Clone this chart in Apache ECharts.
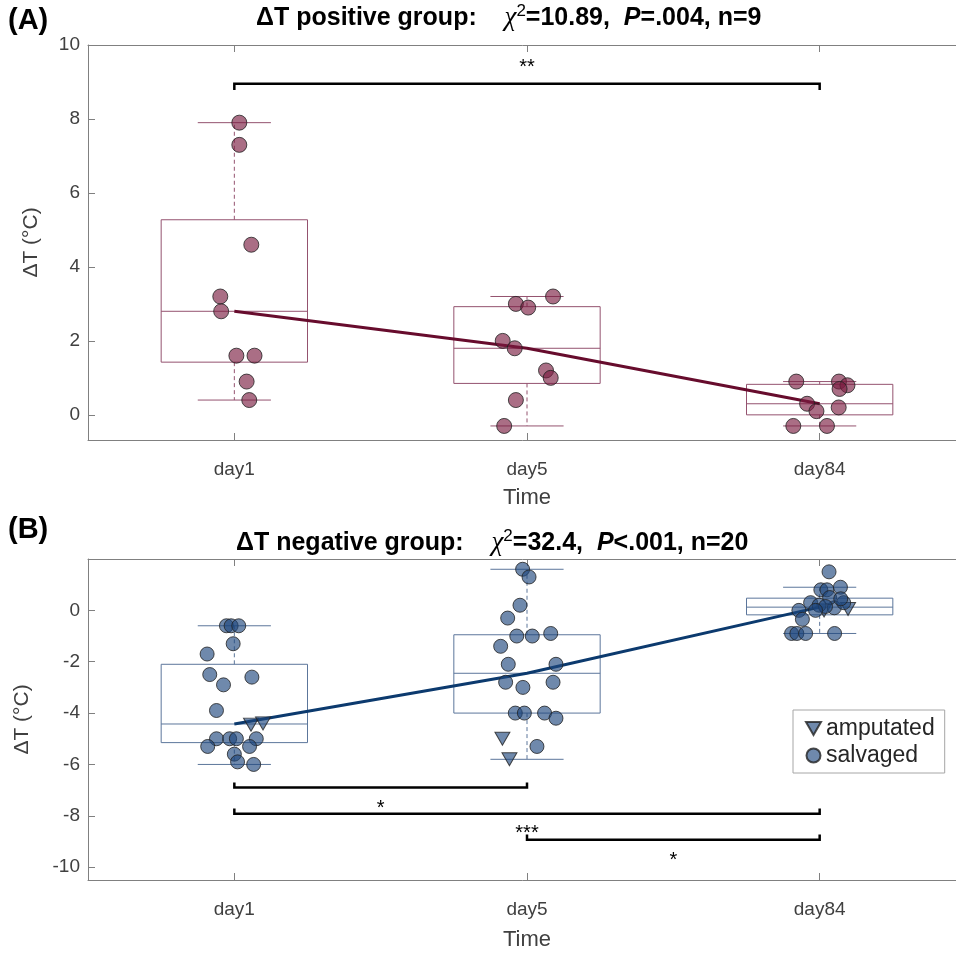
<!DOCTYPE html>
<html><head><meta charset="utf-8">
<script src="https://cdn.jsdelivr.net/npm/echarts@6/dist/echarts.min.js"></script>
<style>html,body{margin:0;padding:0;background:#fff;overflow:hidden}#c{width:956px;height:954px}</style>
</head><body><div id="c"></div>
<script>
// ---------- data ----------
const days = ['day1', 'day5', 'day84'];
const yTicksA = [0, 2, 4, 6, 8, 10];
const yTicksB = [-10, -8, -6, -4, -2, 0];

// Panel A: ΔT positive group (n=9)
const posDay1 = [7.9, 7.3, 4.6, 3.2, 2.8, 1.6, 1.6, 0.9, 0.4];
const posDay1Jit = [0.017, 0.017, 0.058, -0.048, -0.045, 0.007, 0.069, 0.042, 0.051];
const posDay5 = [3.2, 3.0, 2.9, 2.0, 1.8, 1.2, 1.0, 0.4, -0.3];
const posDay5Jit = [0.089, -0.038, 0.004, -0.083, -0.042, 0.065, 0.081, -0.038, -0.078];
const posDay84 = [0.9, 0.9, 0.8, 0.7, 0.3, 0.1, 0.2, -0.3, -0.3];
const posDay84Jit = [-0.080, 0.066, 0.095, 0.068, -0.043, -0.011, 0.065, -0.090, 0.025];

// Panel B: ΔT negative group (n=20) — salvaged
const negSalDay1 = [-0.6, -0.6, -0.6, -1.3, -1.7, -2.5, -2.6, -2.9, -3.9, -5.0, -5.0, -5.0, -5.0, -5.3, -5.3, -5.6, -5.9, -6.0];
const negSalDay1Jit = [-0.027, -0.011, 0.015, -0.004, -0.093, -0.084, 0.060, -0.037, -0.061, -0.061, -0.016, 0.007, 0.075, -0.091, 0.052, 0.0, 0.011, 0.066];
const negSalDay5 = [1.6, 1.3, 0.2, -0.3, -1.0, -1.0, -0.9, -1.4, -2.1, -2.1, -2.8, -3.0, -2.8, -4.0, -4.0, -4.0, -4.2, -5.3];
const negSalDay5Jit = [-0.015, 0.007, -0.024, -0.066, -0.035, 0.018, 0.081, -0.090, -0.064, 0.099, -0.073, -0.014, 0.089, -0.040, -0.009, 0.060, 0.099, 0.034];
const negSalDay84 = [1.5, 0.8, 0.8, 0.9, 0.3, 0.2, 0.1, 0.3, 0.0, -0.35, -0.9, -0.9, -0.9, -0.9, 0.5, 0.45, 0.15, 0.0];
const negSalDay84Jit = [0.032, 0.004, 0.025, 0.071, -0.031, -0.002, 0.050, 0.082, -0.071, -0.059, -0.096, -0.078, -0.048, 0.051, 0.034, 0.072, 0.020, -0.014];
// amputated
const negAmpDay1 = [-4.45, -4.4];
const negAmpDay1Jit = [0.057, 0.098];
const negAmpDay5 = [-5.0, -5.8];
const negAmpDay5Jit = [-0.084, -0.060];
const negAmpDay84 = [0.0, 0.05];
const negAmpDay84Jit = [0.015, 0.097];

// significance brackets
const sigPairsA = [[1, 3]];
const sigLevelA = [8.95];
const sigTextA = ['**'];
const sigTextYA = [9.39];
const sigPairsB = [[1, 2], [1, 3], [2, 3]];
const sigLevelB = [-6.9, -7.92, -8.93];
const sigTextB = ['*', '***', '*'];
const sigTextYB = [-7.72, -8.69, -9.74];

// title texts
const titleA = ['ΔT positive group:    ', '=10.89,  ', 'P', '=.004, n=9'];
const titleB = ['ΔT negative group:    ', '=32.4,  ', 'P', '<.001, n=20'];

// ---------- helpers ----------
function prctile(sorted, p) {
  const n = sorted.length, pos = n * p / 100 + 0.5;
  if (pos <= 1) return sorted[0];
  if (pos >= n) return sorted[n - 1];
  const lo = Math.floor(pos), f = pos - lo;
  return sorted[lo - 1] + f * (sorted[lo] - sorted[lo - 1]);
}
function boxStats(idx, vals) {
  const s = vals.slice().sort((a, b) => a - b);
  const q1 = prctile(s, 25), md = prctile(s, 50), q3 = prctile(s, 75), iqr = q3 - q1;
  const hiLim = q3 + 1.5 * iqr, loLim = q1 - 1.5 * iqr;
  const hi = Math.max(...s.filter(v => v <= hiLim));
  const lo = Math.min(...s.filter(v => v >= loLim));
  return [idx, lo, q1, md, q3, hi];
}
function pts(idx, vals, jit) { return vals.map((v, i) => [idx + jit[i], v]); }

const groupsA = [posDay1, posDay5, posDay84];
const groupsB = [negSalDay1.concat(negAmpDay1), negSalDay5.concat(negAmpDay5), negSalDay84.concat(negAmpDay84)];
const boxA = groupsA.map((g, i) => boxStats(i + 1, g));
const boxB = groupsB.map((g, i) => boxStats(i + 1, g));

const FONT = 'Liberation Sans, Arial, sans-serif';
const AXC = '#808080';
const LBC = '#404040';
const colA = { fill: 'rgba(122,28,64,0.8)', box: '#94526f', line: '#670c2d' };
const colB = { fill: 'rgba(30,70,125,0.8)', box: '#5c769b', line: '#0c3a6e' };
const triPath = 'path://M0,0 L10,0 L5,8.66 Z';

function xAx(grid, top) {
  return {
    type: 'value', gridIndex: grid, min: 0.5, max: 3.5, position: top ? 'top' : 'bottom',
    axisLine: { show: true, onZero: false, lineStyle: { color: AXC, width: 1 } },
    axisTick: { show: true, inside: true, length: 7, customValues: [1, 2, 3], lineStyle: { color: AXC } },
    axisLabel: top ? { show: false } : { show: true, customValues: [1, 2, 3], formatter: v => days[Math.round(v) - 1], fontSize: 19, color: LBC, fontFamily: FONT, margin: 20 },
    splitLine: { show: false },
    name: top ? '' : 'Time', nameLocation: 'middle', nameGap: grid === 0 ? 47 : 49,
    nameTextStyle: { fontSize: 22, color: LBC, fontFamily: FONT }
  };
}
function yAx(grid, min, max, ticks, gap) {
  return {
    type: 'value', gridIndex: grid, min, max,
    axisLine: { show: true, onZero: false, lineStyle: { color: AXC, width: 1 } },
    axisTick: { show: true, inside: true, length: 7, customValues: ticks, lineStyle: { color: AXC } },
    axisLabel: { show: true, customValues: ticks, fontSize: 19, color: LBC, fontFamily: FONT, margin: 8 },
    splitLine: { show: false },
    name: 'ΔT (°C)', nameLocation: 'middle', nameGap: gap,
    nameTextStyle: { fontSize: 21, color: LBC, fontFamily: FONT }
  };
}
function boxSeries(xi, yi, data, color) {
  return {
    type: 'custom', xAxisIndex: xi, yAxisIndex: yi, z: 1, silent: true, clip: false,
    data,
    renderItem(params, api) {
      const x = api.value(0), lo = api.value(1), q1 = api.value(2), md = api.value(3), q3 = api.value(4), hi = api.value(5);
      const a = api.coord([x - 0.25, q3]), b = api.coord([x + 0.25, q1]);
      const m = api.coord([x, md]), h = api.coord([x, hi]), l = api.coord([x, lo]);
      const cL = api.coord([x - 0.125, hi])[0], cR = api.coord([x + 0.125, hi])[0];
      const st = { stroke: color, lineWidth: 1, fill: null };
      const ds = { stroke: color, lineWidth: 1, lineDash: [4, 3] };
      return { type: 'group', children: [
        { type: 'rect', shape: { x: a[0], y: a[1], width: b[0] - a[0], height: b[1] - a[1] }, style: { stroke: color, lineWidth: 1, fill: 'rgba(0,0,0,0)' } },
        { type: 'line', shape: { x1: a[0], y1: m[1], x2: b[0], y2: m[1] }, style: st },
        { type: 'line', shape: { x1: h[0], y1: a[1], x2: h[0], y2: h[1] }, style: ds },
        { type: 'line', shape: { x1: l[0], y1: b[1], x2: l[0], y2: l[1] }, style: ds },
        { type: 'line', shape: { x1: cL, y1: h[1], x2: cR, y2: h[1] }, style: st },
        { type: 'line', shape: { x1: cL, y1: l[1], x2: cR, y2: l[1] }, style: st }
      ] };
    }
  };
}
function sigSeries(xi, yi, pairs, levels, texts, textYs, tipDelta) {
  const data = pairs.map((p, i) => [p[0], p[1], levels[i], textYs[i], i]);
  return {
    type: 'custom', xAxisIndex: xi, yAxisIndex: yi, z: 5, silent: true, clip: false,
    data,
    renderItem(params, api) {
      const x1 = api.value(0), x2 = api.value(1), y = api.value(2), ty = api.value(3), i = api.value(4);
      const p1 = api.coord([x1, y]), p2 = api.coord([x2, y]);
      const t1 = api.coord([x1, y + tipDelta]), t2 = api.coord([x2, y + tipDelta]);
      const tp = api.coord([(x1 + x2) / 2, ty]);
      return { type: 'group', children: [
        { type: 'polyline', shape: { points: [t1, p1, p2, t2] }, style: { stroke: '#000', lineWidth: 2.5, fill: null } },
        { type: 'text', x: tp[0], y: tp[1], style: { text: texts[i], align: 'center', verticalAlign: 'middle', fontSize: 20, fontFamily: FONT, fill: '#000' } }
      ] };
    }
  };
}
function medLine(xi, yi, box, color) {
  return { type: 'line', xAxisIndex: xi, yAxisIndex: yi, z: 2, silent: true, symbol: 'none',
    data: box.map(b => [b[0], b[3]]), lineStyle: { color, width: 3 } };
}

const TS = 25;
const titleRich = {
  b: { fontFamily: FONT, fontWeight: 'bold', fontSize: TS, fill: '#000', lineHeight: 30 },
  c: { fontFamily: 'Liberation Serif, serif', fontStyle: 'italic', fontSize: 27, fill: '#000', lineHeight: 30 },
  s: { fontFamily: FONT, fontSize: 17, fill: '#000', verticalAlign: 'top', lineHeight: 30 },
  p: { fontFamily: FONT, fontWeight: 'bold', fontStyle: 'italic', fontSize: TS, fill: '#000', lineHeight: 30 }
};
function titleText(t, x, y) {
  return { type: 'text', x, y, style: {
    text: '{b|' + t[0] + '}{c|χ}{s|2}{b|' + t[1] + '}{p|' + t[2] + '}{b|' + t[3] + '}',
    rich: titleRich, align: 'left', verticalAlign: 'middle' } };
}

const option = {
  animation: false,
  backgroundColor: '#fff',
  grid: [
    { left: 88, top: 45, width: 878, height: 395, outerBoundsMode: 'none', containLabel: false },
    { left: 88, top: 559, width: 878, height: 321, outerBoundsMode: 'none', containLabel: false }
  ],
  xAxis: [xAx(0, false), xAx(0, true), xAx(1, false), xAx(1, true)],
  yAxis: [yAx(0, -0.68, 10, yTicksA, 46), yAx(1, -10.5, 2, yTicksB, 55)],
  legend: {
    data: ['amputated', 'salvaged'], orient: 'vertical', left: 793, top: 710,
    itemWidth: 15, itemHeight: 14, itemGap: 4, padding: [7, 10, 6, 12],
    borderColor: '#a6a6a6', borderWidth: 1, backgroundColor: '#fff',
    textStyle: { fontSize: 23, color: '#262626', fontFamily: FONT },
    selectedMode: false
  },
  graphic: [
    { type: 'text', x: 8, y: 21, style: { text: '(A)', fontFamily: FONT, fontWeight: 'bold', fontSize: 29, fill: '#000', verticalAlign: 'middle' } },
    { type: 'text', x: 8, y: 530, style: { text: '(B)', fontFamily: FONT, fontWeight: 'bold', fontSize: 29, fill: '#000', verticalAlign: 'middle' } },
    titleText(titleA, 256, 18),
    titleText(titleB, 236, 543)
  ],
  series: [
    boxSeries(0, 0, boxA, colA.box),
    medLine(0, 0, boxA, colA.line),
    { type: 'scatter', name: 'positive', xAxisIndex: 0, yAxisIndex: 0, z: 3, symbol: 'circle', symbolSize: 15,
      data: pts(1, posDay1, posDay1Jit).concat(pts(2, posDay5, posDay5Jit), pts(3, posDay84, posDay84Jit)),
      itemStyle: { color: colA.fill, borderColor: '#222', borderWidth: 1 } },
    sigSeries(0, 0, sigPairsA, sigLevelA, sigTextA, sigTextYA, -0.17),

    boxSeries(2, 1, boxB, colB.box),
    medLine(2, 1, boxB, colB.line),
    { type: 'scatter', name: 'amputated', xAxisIndex: 2, yAxisIndex: 1, z: 3, symbol: triPath, symbolSize: [15, 13],
      data: pts(1, negAmpDay1, negAmpDay1Jit).concat(pts(2, negAmpDay5, negAmpDay5Jit), pts(3, negAmpDay84, negAmpDay84Jit)),
      itemStyle: { color: colB.fill, borderColor: '#222', borderWidth: 1 } },
    { type: 'scatter', name: 'salvaged', xAxisIndex: 2, yAxisIndex: 1, z: 3, symbol: 'circle', symbolSize: 14,
      data: pts(1, negSalDay1, negSalDay1Jit).concat(pts(2, negSalDay5, negSalDay5Jit), pts(3, negSalDay84, negSalDay84Jit)),
      itemStyle: { color: colB.fill, borderColor: '#222', borderWidth: 1 } },
    sigSeries(2, 1, sigPairsB, sigLevelB, sigTextB, sigTextYB, 0.2)
  ]
};
const chart = echarts.init(document.getElementById('c'), null, { renderer: 'canvas' });
chart.setOption(option);
</script></body></html>
